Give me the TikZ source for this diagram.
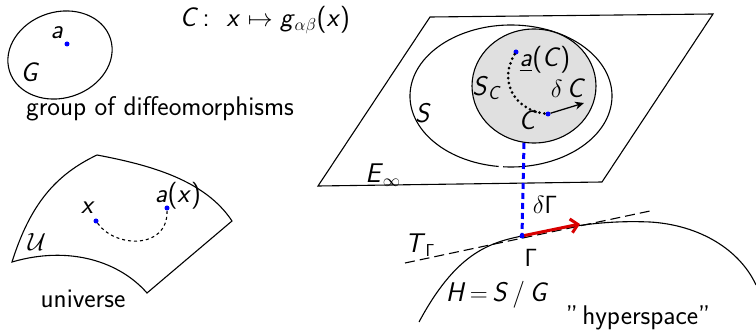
\documentclass[tikz,border=0pt]{standalone}
\usepackage{amsmath}
\usetikzlibrary{arrows.meta}
\newcommand{\vv}[1]{\textsl{#1}}
\begin{document}
\begin{tikzpicture}[x=1pt,y=-1pt,
  every node/.style={font=\sffamily\fontsize{27}{31}\selectfont, inner sep=0pt},
  dot/.style={circle, fill=blue, minimum size=5pt, inner sep=0pt},
  ln/.style={line width=1.1pt}]
\useasboundingbox (0,0) rectangle (756,334);
% group G
\draw[ln, rotate around={18:(60,55)}] (60,55) ellipse [x radius=53, y radius=43];
\node[dot] (a) at (67,44) {};
\node (al) at (57,33) {\vv{a}};
\node (Gl) at (30,72) {\vv{G}};
\node[anchor=base] (grp) at (160,116) {group of diffeomorphisms};
\node (map) at (265,20) {\vv{C}\,:\ \ \vv{x}\;$\mapsto$\;\vv{g}$_{\alpha\beta}$(\vv{x})};
% universe
\draw[ln] (12,262) .. controls (30,205) and (55,175) .. (97,155)
  .. controls (150,165) and (205,180) .. (232,221) -- (147,293)
  .. controls (120,262) and (70,245) .. (12,262) -- cycle;
\node[dot] (x) at (96,221) {};
\node[dot] (ax) at (167,208) {};
\draw[ln, dashed] (x) .. controls (115,248) and (168,250) .. (ax);
\node (xl) at (88,208) {\vv{x}};
\node (axl) at (178,196) {\vv{a}(\vv{x})};
\node (Ul) at (37,242) {$\mathcal{U}$};
\node[anchor=base] (uni) at (83,307) {universe};
% plane
\draw[ln] (430,17) -- (713,14) -- (602,182) -- (318,186) -- cycle;
\draw[ln] ([shift={(97:101 and 71)}]511,96) arc[start angle=97, end angle=454.5, x radius=101, y radius=71];
\draw[ln, fill=black!12] (534,86) ellipse [x radius=62, y radius=57];
\coordinate (cb) at (524,143);
\node[dot] (aC) at (516,52) {};
\node[dot] (C) at (548,114) {};
\draw[line width=3pt, line cap=round, dash pattern=on 0pt off 5pt] (aC) .. controls (498,82) and (515,110) .. (C);
\coordinate (dC) at (584,103);
\draw[line width=1.3pt, -{Stealth[length=9pt,width=8pt]}] (C) -- (dC);
\node (aCl) at (545,60) {\underline{\vv{a}}(\vv{C})};
\node (SCl) at (486,88) {\vv{S}$_{\textsl{C}}$};
\node (dCl) at (568,88) {$\delta$\,\vv{C}};
\node (Cl) at (528,120) {\vv{C}};
\node (Sl) at (423,113) {\vv{S}};
\node (El) at (383,175) {\vv{E}$_\infty$};
% hyperspace
\coordinate (Gam) at (522,236);
\coordinate (t1) at (405,263);
\coordinate (t2) at (650,211);
\draw[ln] (419,322) .. controls (455,255) and (487,243) .. (Gam)
  .. controls (567,227) and (600,220) .. (650,222)
  .. controls (700,225) and (740,250) .. (756,285);
\draw[ln, dash pattern=on 10pt off 5pt] (t1) -- (t2);
\draw[line width=3pt, blue, dash pattern=on 6pt off 4pt] (cb) -- (Gam);
\coordinate (dG) at (580,224);
\draw[line width=3pt, red!85!black, -{Straight Barb[length=7pt,width=14pt]}] (Gam) -- (dG);
\node[dot] (G) at (Gam) {};
\node (dGl) at (545,205) {$\delta\mathsf{\Gamma}$};
\node (TGl) at (420,245) {\vv{T}$_{\mathsf{\Gamma}}$};
\node (Gl2) at (531,258) {$\mathsf{\Gamma}$};
\node (Hl) at (497,295) {\vv{H}\,$=$\,\vv{S}\,/\,\vv{G}};
\node (hyp) at (638,318) {''\,hyperspace''};
\end{tikzpicture}
\end{document}
